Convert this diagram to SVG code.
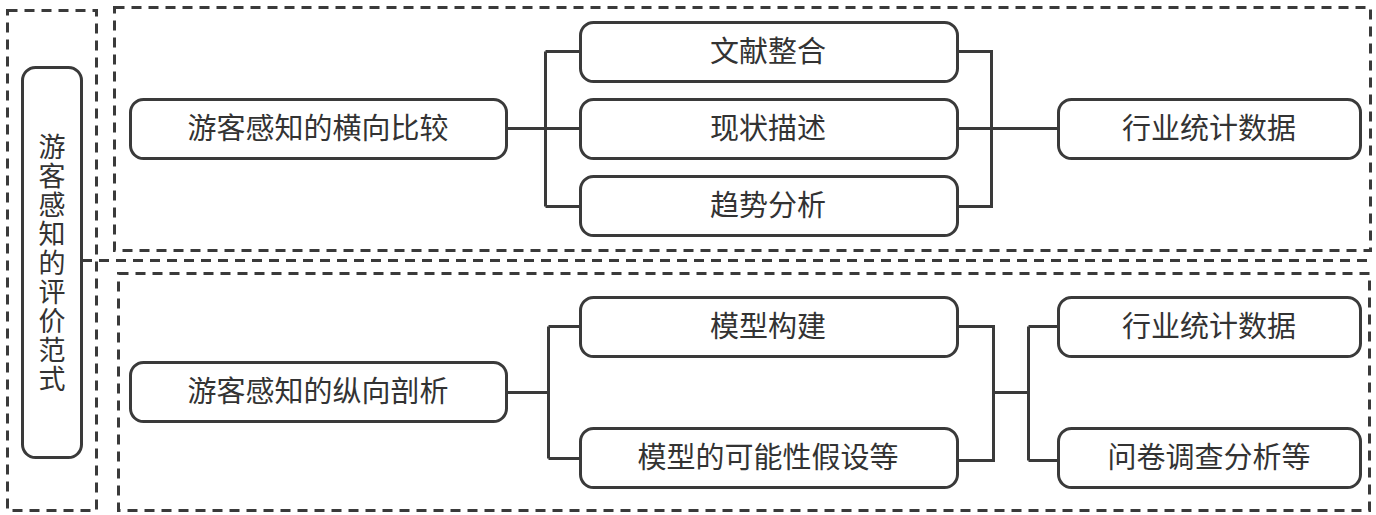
<svg xmlns="http://www.w3.org/2000/svg" width="1376" height="515" viewBox="0 0 1376 515">
<style>
.frame{fill:none;stroke:#3a3a3a;stroke-width:3;stroke-dasharray:10 7}
.node rect{fill:#fff;stroke:#3a3a3a;stroke-width:3}
.node text{font-family:"Noto Sans CJK SC","Noto Sans",sans-serif;font-size:29px;fill:#333;text-anchor:middle}
.node text.vt{font-size:27px}
.conn{fill:none;stroke:#3a3a3a;stroke-width:3}
</style>
<rect width="1376" height="515" fill="#fff"/>
<g id="frames">
<rect class="frame" x="7.5" y="10.5" width="89" height="500"/>
<rect class="frame" x="114.5" y="7.5" width="1256" height="243"/>
<line class="frame" x1="82" y1="260.5" x2="1372" y2="260.5"/>
<rect class="frame" x="118.5" y="273.5" width="1251" height="237"/>
</g>
<g id="connectors">
<path class="conn" d="M506 128.5H580M545.5 51.5V206.5M545.5 51.5H580M545.5 206.5H580"/>
<path class="conn" d="M957 51.5H991.5V206.5H957M957 128.5H1058"/>
<path class="conn" d="M506 392.5H548.5M548.5 326.5V458.5M548.5 326.5H580M548.5 458.5H580"/>
<path class="conn" d="M957 326.5H993.5V460.5H957M993.5 392.5H1028.5M1028.5 326.5V460.5M1028.5 326.5H1058M1028.5 460.5H1058"/>
</g>
<g id="n-root" class="node">
<rect x="22.5" y="67.5" width="59" height="390" rx="13"/>
<text class="vt" x="52" y="157"><tspan x="52">游</tspan><tspan x="52" dy="29">客</tspan><tspan x="52" dy="29">感</tspan><tspan x="52" dy="29">知</tspan><tspan x="52" dy="29">的</tspan><tspan x="52" dy="29">评</tspan><tspan x="52" dy="29">价</tspan><tspan x="52" dy="29">范</tspan><tspan x="52" dy="29">式</tspan></text>
</g>
<g id="n-horizontal" class="node">
<rect x="130.5" y="99.5" width="376" height="59" rx="13"/>
<text x="318" y="139">游客感知的横向比较</text>
</g>
<g id="n-lit" class="node">
<rect x="580.5" y="22.5" width="377" height="59" rx="13"/>
<text x="768" y="62">文献整合</text>
</g>
<g id="n-status" class="node">
<rect x="580.5" y="99.5" width="377" height="59" rx="13"/>
<text x="768" y="139">现状描述</text>
</g>
<g id="n-trend" class="node">
<rect x="580.5" y="176.5" width="377" height="59" rx="13"/>
<text x="768" y="216">趋势分析</text>
</g>
<g id="n-stats1" class="node">
<rect x="1058.5" y="99.5" width="302" height="59" rx="13"/>
<text x="1209" y="139">行业统计数据</text>
</g>
<g id="n-vertical" class="node">
<rect x="130.5" y="362.5" width="376" height="59" rx="13"/>
<text x="318" y="402">游客感知的纵向剖析</text>
</g>
<g id="n-model" class="node">
<rect x="580.5" y="297.5" width="377" height="59" rx="13"/>
<text x="768" y="337">模型构建</text>
</g>
<g id="n-hypo" class="node">
<rect x="580.5" y="428.5" width="377" height="59" rx="13"/>
<text x="768" y="468">模型的可能性假设等</text>
</g>
<g id="n-stats2" class="node">
<rect x="1058.5" y="297.5" width="302" height="59" rx="13"/>
<text x="1209" y="337">行业统计数据</text>
</g>
<g id="n-survey" class="node">
<rect x="1058.5" y="428.5" width="302" height="59" rx="13"/>
<text x="1209" y="468">问卷调查分析等</text>
</g>
</svg>
